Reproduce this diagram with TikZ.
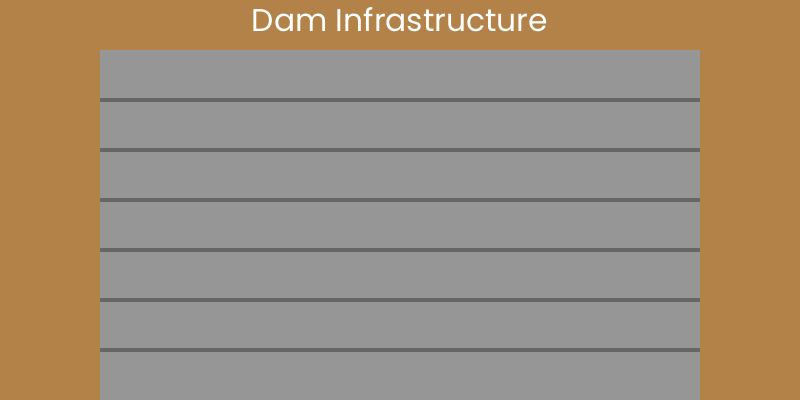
\documentclass[tikz,border=0pt]{standalone}
\usepackage{fontspec}
\setmainfont{Poppins}
\definecolor{damearth}{RGB}{179, 130, 72}
\definecolor{damconcrete}{RGB}{150, 150, 150}
\definecolor{damjoint}{RGB}{102, 102, 102}
\usetikzlibrary{positioning}

\begin{document}
\begin{tikzpicture}[x=0.025cm, y=-0.025cm]
  \fill[damearth] (0,0) rectangle (800,400);
  \useasboundingbox (0,0) rectangle (800,400);
  % dam body
  \fill[damconcrete] (100,50) rectangle (700,400);
  \foreach \y in {100,150,...,350}
    \draw[damjoint, line width=2.2pt] (100,\y) -- (700,\y);
  \node[text=white, font=\fontsize{22.3}{26}\selectfont] (title) at (400,20) {Dam Infrastructure};
\end{tikzpicture}
\end{document}
